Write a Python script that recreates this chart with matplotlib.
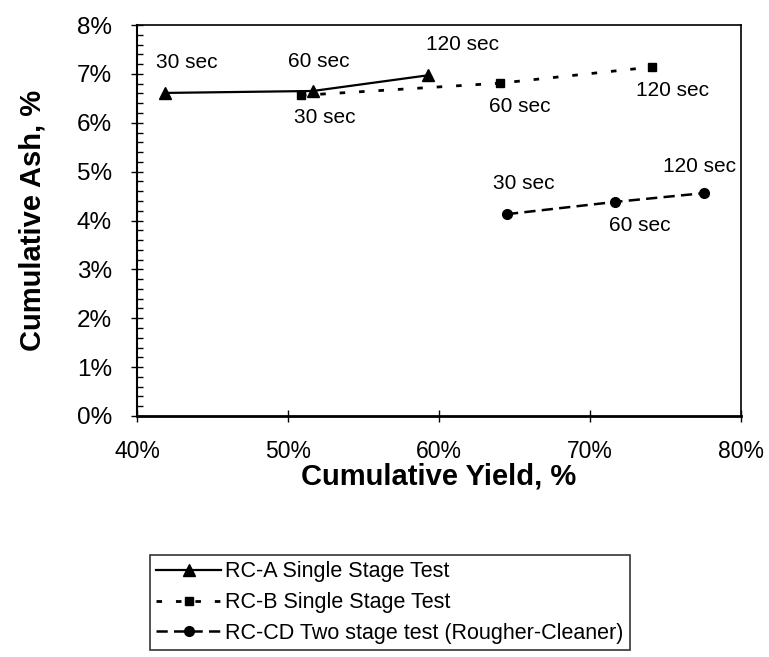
import numpy as np
import matplotlib.pyplot as plt
from matplotlib.ticker import MultipleLocator, FuncFormatter

plt.rcParams['font.family'] = ['Liberation Sans', 'DejaVu Sans']

# ----------------------
# data (cumulative yield %, cumulative ash %)
# ----------------------
times = ["30 sec", "60 sec", "120 sec"]

rca_yield = [41.85, 51.65, 59.25]
rca_ash = [6.61, 6.65, 6.97]

rcb_yield = [50.85, 64.05, 74.1]
rcb_ash = [6.56, 6.81, 7.14]

rccd_yield = [64.5, 71.65, 77.55]
rccd_ash = [4.13, 4.38, 4.56]

names = ["RC-A Single Stage Test",
         "RC-B Single Stage Test",
         "RC-CD Two stage test (Rougher-Cleaner)"]

# label offsets in points (dx, dy) for each time label
off_a = [(16, 22), (4, 21), (25, 22)]
off_b = [(17, -16), (14, -17), (15, -17)]
off_c = [(12, 22), (18, -17), (-3, 19)]

fig = plt.figure(figsize=(7.69, 6.57), dpi=100)
ax = fig.add_axes([137 / 769, 1 - 416 / 657, 604 / 769, 391 / 657])

ax.plot(rca_yield, rca_ash, color="black", lw=1.6, marker="^", ms=8,
        label=names[0])
ax.plot(rcb_yield, rcb_ash, color="black", lw=2.0, marker="s", ms=6,
        dashes=(2, 5), label=names[1])
ax.plot(rccd_yield, rccd_ash, color="black", lw=1.8, marker="o", ms=7,
        dashes=(4.5, 2.5), label=names[2])

for xs, ys, offs in [(rca_yield, rca_ash, off_a),
                     (rcb_yield, rcb_ash, off_b),
                     (rccd_yield, rccd_ash, off_c)]:
    for t, x, y, o in zip(times, xs, ys, offs):
        ax.annotate(t, (x, y), xytext=o, textcoords="offset points",
                    ha="center", va="center", fontsize=15)

ax.set_xlim(40, 80)
ax.set_ylim(0, 8)
ax.xaxis.set_major_locator(MultipleLocator(10))
ax.yaxis.set_major_locator(MultipleLocator(1))
ax.yaxis.set_minor_locator(MultipleLocator(0.2))
pct = FuncFormatter(lambda v, p: "%d%%" % round(v))
ax.xaxis.set_major_formatter(pct)
ax.yaxis.set_major_formatter(pct)

ax.tick_params(axis="x", which="major", direction="inout", length=8,
               width=1, labelsize=16.5, pad=13)
ax.tick_params(axis="y", which="major", direction="inout", length=8,
               width=1, labelsize=17.5, pad=14)
ax.tick_params(axis="y", which="minor", direction="in", length=4, width=1)
ax.tick_params(top=False, right=False)

for s in ax.spines.values():
    s.set_linewidth(1.2)
ax.spines["bottom"].set_linewidth(2)
ax.spines["left"].set_linewidth(1.5)

ax.set_xlabel("Cumulative Yield, %", fontsize=21, fontweight="bold",
              labelpad=0)
ax.set_ylabel("Cumulative Ash, %", fontsize=21, fontweight="bold",
              labelpad=22)

leg = fig.legend(loc="upper left", bbox_to_anchor=(150 / 769, 1 - 555 / 657),
                 fontsize=15.5, frameon=True, fancybox=False, edgecolor="black",
                 handlelength=3.0, handletextpad=0.2, labelspacing=0.45,
                 borderpad=0.3, borderaxespad=0)
leg.get_frame().set_linewidth(1.2)

fig.savefig("out.png", dpi=100)
